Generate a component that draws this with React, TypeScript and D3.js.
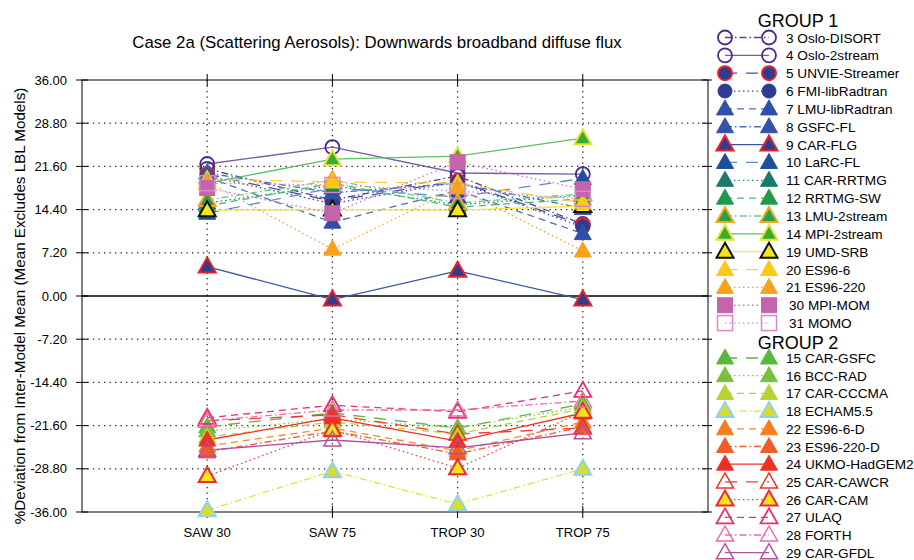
import React from 'react';
import * as d3 from 'd3';

// categories and axis ticks
const categories = ['SAW 30', 'SAW 75', 'TROP 30', 'TROP 75'];
const yTicks = [36, 28.8, 21.6, 14.4, 7.2, 0, -7.2, -14.4, -21.6, -28.8, -36];

// group 1 values (% deviation) at SAW 30, SAW 75, TROP 30, TROP 75
const osloDisort = [21.2, 16.0, 20.0, 12.0];
const oslo2stream = [22.0, 24.8, 20.5, 20.3];
const unvieStreamer = [20.3, 15.8, 19.2, 11.8];
const fmiLibRadtran = [20.0, 15.4, 19.0, 11.5];
const lmuLibRadtran = [19.8, 12.3, 17.6, 10.4];
const gsfcFl = [20.5, 17.2, 18.8, 14.6];
const carFlg = [4.9, -0.6, 4.2, -0.6];
const larcFl = [13.8, 18.0, 16.5, 19.6];
const carRrtmg = [15.5, 18.4, 15.2, 16.8];
const rrtmgSw = [15.0, 18.8, 14.8, 16.2];
const lmu2stream = [16.0, 19.3, 15.5, 17.0];
const mpi2stream = [18.8, 22.8, 23.3, 26.3];
const umdSrb = [14.3, 14.4, 14.3, 15.0];
const es96_6 = [19.5, 19.0, 18.8, 15.5];
const es96_220 = [19.0, 7.8, 18.0, 7.5];
const mpiMom = [18.0, 13.8, 22.3, 17.8];
const momo = [18.8, 18.5, 17.5, 16.2];

// group 2 values
const carGsfc = [-21.8, -19.5, -22.0, -18.0];
const bccRad = [-22.5, -20.5, -22.0, -18.5];
const carCccma = [-23.5, -21.0, -23.0, -18.8];
const echam55 = [-35.7, -29.2, -34.7, -28.8];
const es96_6d = [-25.0, -22.0, -25.8, -21.0];
const es96_220d = [-26.0, -22.5, -26.3, -21.8];
const ukmoHadgem2 = [-24.0, -20.3, -24.2, -19.5];
const carCawcr = [-20.8, -19.8, -23.0, -22.0];
const carCam = [-30.0, -22.3, -28.7, -19.3];
const ulaq = [-20.3, -18.2, -19.3, -15.8];
const forth = [-20.8, -19.0, -19.0, -17.5];
const carGfdl = [-25.7, -24.0, -25.3, -22.8];

const group1Names = ['3 Oslo-DISORT', '4 Oslo-2stream', '5 UNVIE-Streamer', '6 FMI-libRadtran', '7 LMU-libRadtran', '8 GSFC-FL', '9 CAR-FLG', '10 LaRC-FL', '11 CAR-RRTMG', '12 RRTMG-SW', '13 LMU-2stream', '14 MPI-2stream', '19 UMD-SRB', '20 ES96-6', '21 ES96-220', '30 MPI-MOM', '31 MOMO'];
const group1Values = [osloDisort, oslo2stream, unvieStreamer, fmiLibRadtran, lmuLibRadtran, gsfcFl, carFlg, larcFl, carRrtmg, rrtmgSw, lmu2stream, mpi2stream, umdSrb, es96_6, es96_220, mpiMom, momo];
const group2Names = ['15 CAR-GSFC', '16 BCC-RAD', '17 CAR-CCCMA', '18 ECHAM5.5', '22 ES96-6-D', '23 ES96-220-D', '24 UKMO-HadGEM2', '25 CAR-CAWCR', '26 CAR-CAM', '27 ULAQ', '28 FORTH', '29 CAR-GFDL'];
const group2Values = [carGsfc, bccRad, carCccma, echam55, es96_6d, es96_220d, ukmoHadgem2, carCawcr, carCam, ulaq, forth, carGfdl];

type Style = { line: string; dash: string; shape: 'c' | 't' | 's'; fill: string; edge: string; ew?: number };
const DOT = '1.5,3', DASH = '7,5', LONG = '12,9', DDOT = '7,3,1.5,3', SOLID = '';

const group1Styles: Style[] = [
  { line: '#5a3d99', dash: DDOT, shape: 'c', fill: 'none', edge: '#4b2a8c', ew: 1.8 },
  { line: '#7a5aa8', dash: SOLID, shape: 'c', fill: 'none', edge: '#4b2a8c', ew: 1.8 },
  { line: '#4a4fa0', dash: LONG, shape: 'c', fill: '#2f3c8f', edge: '#e8202a', ew: 2 },
  { line: '#3c48a0', dash: DOT, shape: 'c', fill: '#2f3c8f', edge: '#2f3c8f' },
  { line: '#4a6fb8', dash: DASH, shape: 't', fill: '#2f4fa8', edge: '#2f4fa8' },
  { line: '#4a6fb8', dash: DDOT, shape: 't', fill: '#3552a8', edge: '#3552a8' },
  { line: '#3c55a8', dash: SOLID, shape: 't', fill: '#2f3c8f', edge: '#e8202a', ew: 2 },
  { line: '#5b8ccc', dash: LONG, shape: 't', fill: '#1d4f9c', edge: '#1d4f9c' },
  { line: '#1a8a7a', dash: DOT, shape: 't', fill: '#177a6c', edge: '#177a6c' },
  { line: '#4cb870', dash: DASH, shape: 't', fill: '#1f9a4a', edge: '#1f9a4a' },
  { line: '#6cc88a', dash: DDOT, shape: 't', fill: '#2aa048', edge: '#f5a623', ew: 2 },
  { line: '#5cc060', dash: SOLID, shape: 't', fill: '#3aaa35', edge: '#e8e33a', ew: 2 },
  { line: '#f5e64a', dash: SOLID, shape: 't', fill: '#f7e51c', edge: '#111111', ew: 2 },
  { line: '#ffcf3a', dash: LONG, shape: 't', fill: '#ffc814', edge: '#ffc814' },
  { line: '#f8a31c', dash: DOT, shape: 't', fill: '#f7a21b', edge: '#f7a21b' },
  { line: '#c676b6', dash: DOT, shape: 's', fill: '#c464ad', edge: '#c464ad' },
  { line: '#d889c8', dash: DOT, shape: 's', fill: 'none', edge: '#d889c8', ew: 1.5 },
];

const group2Styles: Style[] = [
  { line: '#5ab83c', dash: LONG, shape: 't', fill: '#5ab83c', edge: '#5ab83c' },
  { line: '#8cc63f', dash: DOT, shape: 't', fill: '#7cbf3f', edge: '#7cbf3f' },
  { line: '#b5d334', dash: DASH, shape: 't', fill: '#b5d334', edge: '#b5d334' },
  { line: '#dde335', dash: DDOT, shape: 't', fill: '#d8dc2a', edge: '#8fd2ef', ew: 2 },
  { line: '#f58a2a', dash: DASH, shape: 't', fill: '#f57f20', edge: '#f57f20' },
  { line: '#f15a29', dash: DDOT, shape: 't', fill: '#f15a29', edge: '#f15a29' },
  { line: '#ee3124', dash: SOLID, shape: 't', fill: '#ee3124', edge: '#ee3124' },
  { line: '#ee3a3a', dash: LONG, shape: 't', fill: 'none', edge: '#ee3124', ew: 1.5 },
  { line: '#ef3b46', dash: DOT, shape: 't', fill: '#f3e51a', edge: '#ee2a3a', ew: 2 },
  { line: '#ec2d6e', dash: DASH, shape: 't', fill: 'none', edge: '#e8306e', ew: 1.8 },
  { line: '#f06aa6', dash: DDOT, shape: 't', fill: 'none', edge: '#f06aa6', ew: 1.5 },
  { line: '#b04fa0', dash: SOLID, shape: 't', fill: 'none', edge: '#b04fa0', ew: 1.5 },
];

const W = 914, H = 560;
const left = 82, right = 708, top = 80, bottom = 512;
const FONT = '"Liberation Sans", Arial, Helvetica, sans-serif';

function Marker({ x, y, s }: { x: number; y: number; s: Style }) {
  const sw = s.ew ?? 1;
  if (s.shape === 'c') return <circle cx={x} cy={y} r={7} fill={s.fill} stroke={s.edge} strokeWidth={sw} />;
  if (s.shape === 's') return <rect x={x - 7.5} y={y - 7.5} width={15} height={15} fill={s.fill} stroke={s.edge} strokeWidth={sw} />;
  return <path d={`M${x},${y - 9}L${x + 8.5},${y + 6}L${x - 8.5},${y + 6}Z`} fill={s.fill} stroke={s.edge} strokeWidth={sw} strokeLinejoin="miter" />;
}

export default function App() {
  const x = d3.scalePoint<string>().domain(categories).range([left, right]).padding(1);
  const y = d3.scaleLinear().domain([-36, 36]).range([bottom, top]);
  const line = d3.line<number>().x((_, i) => x(categories[i]) as number).y(d => y(d));

  const all = [
    ...group1Values.map((v, i) => ({ v, s: group1Styles[i] })),
    ...group2Values.map((v, i) => ({ v, s: group2Styles[i] })),
  ];

  const legendRows = [
    ...group1Names.map((n, i) => ({ n, s: group1Styles[i], y: 37.5 + 17.85 * i })),
    ...group2Names.map((n, i) => ({ n, s: group2Styles[i], y: 358 + 17.7 * i })),
  ];

  return (
    <svg width={W} height={H} style={{ position: 'absolute', left: 0, top: 0, background: '#fff' }} fontFamily={FONT}>
      <rect width={W} height={H} fill="#fff" />
      <text x={377} y={48} textAnchor="middle" fontSize={16.8}>Case 2a (Scattering Aerosols): Downwards broadband diffuse flux</text>
      <text transform={`translate(25,${306}) rotate(-90)`} textAnchor="middle" fontSize={15.2}>%Deviation from Inter-Model Mean (Mean Excludes LBL Models)</text>

      {/* grid */}
      {yTicks.filter(t => Math.abs(t) !== 36 && t !== 0).map(t => (
        <line key={'g' + t} x1={left} x2={right} y1={y(t)} y2={y(t)} stroke="#222" strokeWidth={1.3} strokeDasharray="1.3,4.2" />
      ))}
      {categories.map(c => (
        <line key={'v' + c} x1={x(c)} x2={x(c)} y1={top} y2={bottom} stroke="#222" strokeWidth={1.3} strokeDasharray="1.3,4.2" />
      ))}
      <line x1={left} x2={right} y1={y(0)} y2={y(0)} stroke="#000" strokeWidth={1.5} />

      {/* frame */}
      <rect x={left} y={top} width={right - left} height={bottom - top} fill="none" stroke="#000" strokeWidth={1} />
      {yTicks.map(t => (
        <g key={'t' + t}>
          <line x1={left - 6} x2={left + 6} y1={y(t)} y2={y(t)} stroke="#000" />
          <line x1={right - 6} x2={right + 6} y1={y(t)} y2={y(t)} stroke="#000" />
          <text x={left - 15} y={y(t) + 4.5} textAnchor="end" fontSize={13}>{t.toFixed(2)}</text>
        </g>
      ))}
      {categories.map(c => (
        <g key={'xt' + c}>
          <line x1={x(c)} x2={x(c)} y1={bottom - 6} y2={bottom + 6} stroke="#000" />
          <line x1={x(c)} x2={x(c)} y1={top - 6} y2={top + 6} stroke="#000" />
          <text x={x(c)} y={537} textAnchor="middle" fontSize={13}>{c}</text>
        </g>
      ))}

      {/* series lines */}
      {all.map((d, i) => (
        <path key={'l' + i} d={line(d.v) as string} fill="none" stroke={d.s.line} strokeWidth={1.3} strokeDasharray={d.s.dash || undefined} />
      ))}
      {/* markers */}
      {all.map((d, i) => (
        <g key={'m' + i}>
          {d.v.map((v, j) => <Marker key={j} x={x(categories[j]) as number} y={y(v)} s={d.s} />)}
        </g>
      ))}

      {/* legend */}
      <rect x={712} y={0} width={202} height={H} fill="#fff" />
      <text x={798} y={27} textAnchor="middle" fontSize={18}>GROUP 1</text>
      <text x={798} y={349} textAnchor="middle" fontSize={18}>GROUP 2</text>
      {legendRows.map((r, i) => (
        <g key={'lg' + i}>
          <line x1={725} x2={769} y1={r.y} y2={r.y} stroke={r.s.line} strokeWidth={1.3} strokeDasharray={r.s.dash || undefined} />
          <Marker x={725} y={r.y} s={r.s} />
          <Marker x={769} y={r.y} s={r.s} />
          <text x={r.s.shape === 's' ? 789 : 786} y={r.y + 5} fontSize={13.6}>{r.n}</text>
        </g>
      ))}
    </svg>
  );
}
